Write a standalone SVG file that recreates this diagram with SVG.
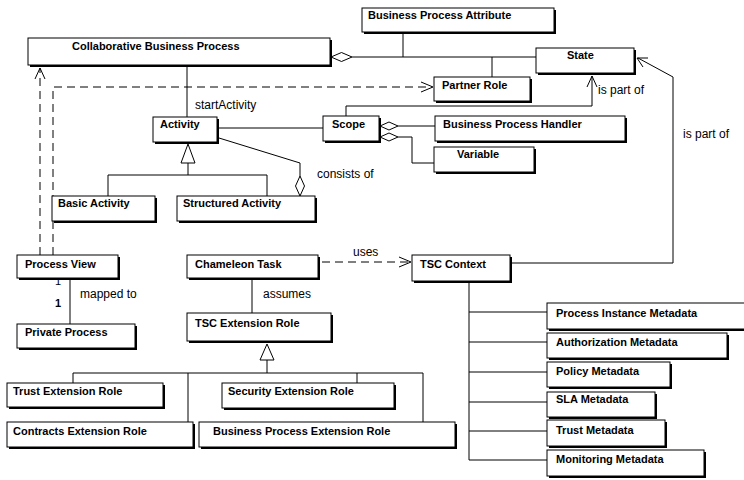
<svg xmlns="http://www.w3.org/2000/svg" width="744" height="480" viewBox="0 0 744 480">
<style>
.sh{fill:#000}
.bx{fill:#fff;stroke:#000;stroke-width:1}
.t{font-family:"Liberation Sans",Arial,sans-serif;font-size:11px;font-weight:bold;fill:#000}
.l{font-family:"Liberation Sans",Arial,sans-serif;font-size:12px;fill:#000}
.c{fill:none;stroke:#000;stroke-width:1}
.d{fill:none;stroke:#000;stroke-width:1;stroke-dasharray:8 5}
.dia{fill:#fff;stroke:#000;stroke-width:1}
.tri{fill:#fff;stroke:#000;stroke-width:1}
.ah{fill:none;stroke:#000;stroke-width:1}
</style>
<rect width="744" height="480" fill="#fff"/>
<g id="connectors">
  <!-- CBP aggregation to BPA / Partner Role / State -->
  <line class="c" x1="352" y1="57" x2="536" y2="57"/>
  <line class="c" x1="403" y1="34" x2="403" y2="57"/>
  <line class="c" x1="492" y1="57" x2="492" y2="77"/>
  <polygon class="dia" points="331,57 341.5,52.5 352,57 341.5,61.5"/>
  <!-- startActivity -->
  <line class="c" x1="187" y1="67" x2="187" y2="117"/>
  <!-- Process View dependencies -->
  <line class="d" x1="40" y1="255" x2="40" y2="68"/>
  <polyline class="ah" points="35,79 40,68 45,79"/>
  <polyline class="d" points="53,255 53,87 432,87"/>
  <polyline class="ah" points="421,82 433,87 421,92"/>
  <!-- Activity - Scope -->
  <line class="c" x1="219" y1="128" x2="323" y2="128"/>
  <!-- Scope is part of State -->
  <polyline class="c" points="346,116 346,106 592,106 592,76"/>
  <polyline class="ah" points="587,87 592,76 597,87"/>
  <!-- Scope aggregations -->
  <line class="c" x1="398" y1="126" x2="435" y2="126"/>
  <polygon class="dia" points="380,126 389,122 398,126 389,130"/>
  <polyline class="c" points="398,137 412,137 412,163 434,163"/>
  <polygon class="dia" points="380,137 389,133 398,137 389,141"/>
  <!-- consists of -->
  <polyline class="c" points="219,138 300,163 300,176"/>
  <polygon class="dia" points="300,176 304.5,186 300,196 295.5,186"/>
  <!-- Activity generalization -->
  <polygon class="tri" points="188,144 181,163 195,163"/>
  <line class="c" x1="188" y1="163" x2="188" y2="175"/>
  <polyline class="c" points="108,196 108,175 267,175 267,196"/>
  <!-- mapped to -->
  <line class="c" x1="70" y1="280" x2="70" y2="324"/>
  <!-- assumes -->
  <line class="c" x1="252" y1="280" x2="252" y2="313"/>
  <!-- uses -->
  <line class="d" x1="322" y1="262" x2="410" y2="262"/>
  <polyline class="ah" points="399,257 411,262 399,267"/>
  <!-- TSC Context is part of State -->
  <polyline class="c" points="512,263 673,263 673,77 638,58"/>
  <polyline class="ah" points="643,67 637,58 648,58"/>
  <!-- TSC Context metadata -->
  <line class="c" x1="469" y1="283" x2="469" y2="460"/>
  <line class="c" x1="469" y1="312" x2="547" y2="312"/>
  <line class="c" x1="469" y1="342" x2="547" y2="342"/>
  <line class="c" x1="469" y1="372" x2="547" y2="372"/>
  <line class="c" x1="469" y1="402" x2="547" y2="402"/>
  <line class="c" x1="469" y1="431" x2="547" y2="431"/>
  <line class="c" x1="469" y1="460" x2="547" y2="460"/>
  <!-- TSC Extension Role generalization -->
  <polygon class="tri" points="267,344 260,360 274,360"/>
  <line class="c" x1="267" y1="360" x2="267" y2="373"/>
  <line class="c" x1="73" y1="373" x2="423" y2="373"/>
  <line class="c" x1="73" y1="373" x2="73" y2="383"/>
  <line class="c" x1="188" y1="373" x2="188" y2="422"/>
  <line class="c" x1="357" y1="373" x2="357" y2="383"/>
  <line class="c" x1="423" y1="373" x2="423" y2="422"/>
</g>
<g id="labels">
  <text class="l" x="195" y="109">startActivity</text>
  <text class="l" x="598" y="94">is part of</text>
  <text class="l" x="317" y="178">consists of</text>
  <text class="l" x="683" y="138">is part of</text>
  <text class="l" x="80" y="298">mapped to</text>
  <text class="t" x="55" y="285" style="font-weight:normal">1</text>
  <text class="t" x="55" y="307">1</text>
  <text class="l" x="263" y="298">assumes</text>
  <text class="l" x="353" y="256">uses</text>
</g>
<g id="bpa"><rect class="sh" x="364" y="10" width="192" height="24"/><rect class="bx" x="362" y="8" width="192" height="24"/><text class="t" x="368" y="19">Business Process Attribute</text></g>
<g id="cbp"><rect class="sh" x="30" y="40" width="302" height="27"/><rect class="bx" x="28" y="38" width="302" height="27"/><text class="t" x="72" y="50">Collaborative Business Process</text></g>
<g id="state"><rect class="sh" x="538" y="50" width="98" height="25"/><rect class="bx" x="536" y="48" width="98" height="25"/><text class="t" x="567" y="59">State</text></g>
<g id="partner-role"><rect class="sh" x="436" y="79" width="96" height="24"/><rect class="bx" x="434" y="77" width="96" height="24"/><text class="t" x="442" y="89">Partner Role</text></g>
<g id="activity"><rect class="sh" x="155" y="119" width="64" height="25"/><rect class="bx" x="153" y="117" width="64" height="25"/><text class="t" x="160" y="128">Activity</text></g>
<g id="scope"><rect class="sh" x="325" y="118" width="56" height="25"/><rect class="bx" x="323" y="116" width="56" height="25"/><text class="t" x="332" y="128">Scope</text></g>
<g id="bph"><rect class="sh" x="437" y="118" width="190" height="25"/><rect class="bx" x="435" y="116" width="190" height="25"/><text class="t" x="443" y="128">Business Process Handler</text></g>
<g id="variable"><rect class="sh" x="436" y="149" width="100" height="25"/><rect class="bx" x="434" y="147" width="100" height="25"/><text class="t" x="457" y="158">Variable</text></g>
<g id="basic-activity"><rect class="sh" x="54" y="198" width="103" height="25"/><rect class="bx" x="52" y="196" width="103" height="25"/><text class="t" x="58" y="207">Basic Activity</text></g>
<g id="structured-activity"><rect class="sh" x="179" y="198" width="138" height="25"/><rect class="bx" x="177" y="196" width="138" height="25"/><text class="t" x="183" y="207">Structured Activity</text></g>
<g id="process-view"><rect class="sh" x="19" y="257" width="101" height="23"/><rect class="bx" x="17" y="255" width="101" height="23"/><text class="t" x="25" y="268">Process View</text></g>
<g id="private-process"><rect class="sh" x="19" y="326" width="118" height="24"/><rect class="bx" x="17" y="324" width="118" height="24"/><text class="t" x="25" y="336">Private Process</text></g>
<g id="chameleon-task"><rect class="sh" x="189" y="257" width="131" height="23"/><rect class="bx" x="187" y="255" width="131" height="23"/><text class="t" x="195" y="268">Chameleon Task</text></g>
<g id="tsc-extension-role"><rect class="sh" x="189" y="315" width="144" height="28"/><rect class="bx" x="187" y="313" width="144" height="28"/><text class="t" x="195" y="327">TSC Extension Role</text></g>
<g id="tsc-context"><rect class="sh" x="414" y="257" width="98" height="26"/><rect class="bx" x="412" y="255" width="98" height="26"/><text class="t" x="420" y="268">TSC Context</text></g>
<g id="trust-extension-role"><rect class="sh" x="9" y="385" width="156" height="24"/><rect class="bx" x="7" y="383" width="156" height="24"/><text class="t" x="13" y="395">Trust Extension Role</text></g>
<g id="contracts-extension-role"><rect class="sh" x="9" y="424" width="186" height="25"/><rect class="bx" x="7" y="422" width="186" height="25"/><text class="t" x="13" y="435">Contracts Extension Role</text></g>
<g id="security-extension-role"><rect class="sh" x="224" y="385" width="172" height="25"/><rect class="bx" x="222" y="383" width="172" height="25"/><text class="t" x="228" y="395">Security Extension Role</text></g>
<g id="bp-extension-role"><rect class="sh" x="201" y="424" width="256" height="25"/><rect class="bx" x="199" y="422" width="256" height="25"/><text class="t" x="213" y="435">Business Process Extension Role</text></g>
<g id="process-instance-metadata"><rect class="sh" x="549" y="305" width="200" height="26"/><rect class="bx" x="547" y="303" width="200" height="26"/><text class="t" x="556" y="317">Process Instance Metadata</text></g>
<g id="authorization-metadata"><rect class="sh" x="549" y="335" width="180" height="25"/><rect class="bx" x="547" y="333" width="180" height="25"/><text class="t" x="556" y="346">Authorization Metadata</text></g>
<g id="policy-metadata"><rect class="sh" x="549" y="364" width="123" height="25"/><rect class="bx" x="547" y="362" width="123" height="25"/><text class="t" x="556" y="375">Policy Metadata</text></g>
<g id="sla-metadata"><rect class="sh" x="549" y="394" width="108" height="25"/><rect class="bx" x="547" y="392" width="108" height="25"/><text class="t" x="556" y="403">SLA Metadata</text></g>
<g id="trust-metadata"><rect class="sh" x="549" y="422" width="118" height="26"/><rect class="bx" x="547" y="420" width="118" height="26"/><text class="t" x="556" y="434">Trust Metadata</text></g>
<g id="monitoring-metadata"><rect class="sh" x="549" y="452" width="157" height="26"/><rect class="bx" x="547" y="450" width="157" height="26"/><text class="t" x="556" y="463">Monitoring Metadata</text></g>
</svg>
